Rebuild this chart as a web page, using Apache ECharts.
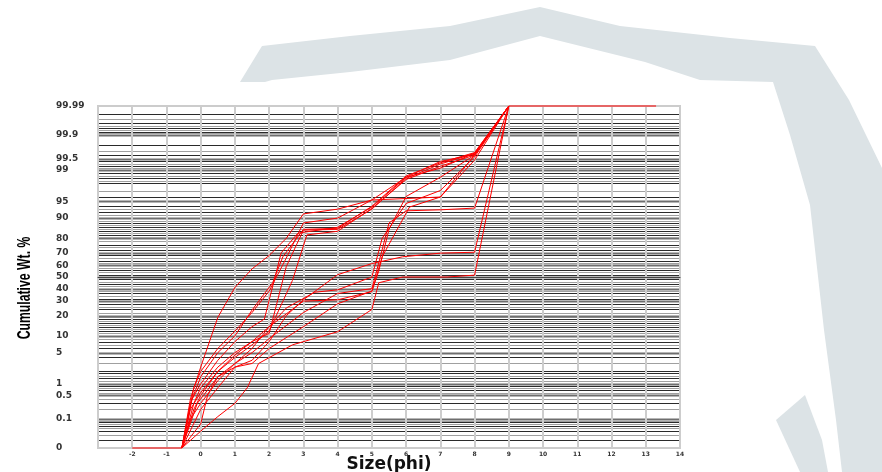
<!DOCTYPE html>
<html>
<head>
<meta charset="utf-8">
<title>Cumulative Wt. %</title>
<script src="https://cdn.jsdelivr.net/npm/echarts@6/dist/echarts.min.js"></script>
<style>
  html, body { margin: 0; padding: 0; background: #fff; }
  #chart { width: 882px; height: 472px; }
</style>
</head>
<body>
<div id="chart"></div>
<script>
// one array per sample: [size (phi), cumulative wt %]
const sample1 = [[-2, 0.01], [-0.55, 0.01], [-0.3, 0.4], [0, 2.5], [0.5, 19], [1, 41], [1.5, 57], [2, 68], [2.5, 80], [3, 91.5], [4, 93], [5, 95.3], [6, 98.5], [7, 99.1], [8, 99.65], [9, 99.99], [13.3, 99.99]];
const sample2 = [[-0.55, 0.01], [-0.25, 0.4], [0, 1], [0.5, 3.5], [1, 8], [1.5, 14], [1.86, 18], [2.35, 70], [2.84, 83], [4, 86], [5, 93.6], [6, 98.5], [7, 99.4], [8, 99.62], [9, 99.99]];
const sample3 = [[-0.55, 0.01], [-0.2, 0.3], [0, 0.8], [0.5, 2.5], [1, 5], [1.5, 8], [2, 11], [2.5, 59], [3, 84.6], [4, 85], [5, 93], [6, 98.4], [7, 99.3], [8, 99.64], [9, 99.99]];
const sample4 = [[-0.55, 0.01], [-0.3, 0.3], [0, 1.5], [0.5, 5], [1, 10], [1.5, 23.6], [2.1, 45], [2.4, 67], [3, 85], [4, 85.5], [5, 93.8], [6, 98.6], [7, 99.35], [8, 99.66], [9, 99.99]];
const sample5 = [[-0.55, 0.01], [-0.3, 0.2], [0, 0.6], [0.5, 2], [1, 4], [1.5, 7], [2, 12], [2.68, 47], [3.1, 82], [4, 84], [5, 93.2], [6, 98.3], [7, 99.2], [8, 99.6], [9, 99.99]];
const sample6 = [[-0.55, 0.01], [-0.2, 0.2], [0, 0.5], [0.5, 2], [1, 4.5], [1.5, 8], [2, 14], [3, 30], [4, 31], [5, 37.5], [5.3, 67], [6.1, 93.6], [7, 95.9], [8, 99.45], [9, 99.99]];
const sample7 = [[-0.55, 0.01], [-0.1, 0.3], [0, 0.4], [0.5, 1.5], [1, 3], [1.5, 5], [2, 9], [3, 22], [4, 36], [5, 40], [5.2, 62], [5.5, 88], [6, 92.5], [7, 92.8], [8, 93.3], [9, 99.99]];
const sample8 = [[-0.55, 0.01], [0, 0.2], [0.5, 0.8], [1, 2.5], [1.5, 3.5], [2, 8], [2.5, 20], [3, 31], [4, 52], [5, 61.5], [5.9, 67], [7, 69.8], [8, 70.5], [9, 99.99]];
const sample9 = [[-0.55, 0.01], [0, 0.04], [0.5, 0.12], [1, 0.3], [1.36, 0.8], [1.69, 3], [2.68, 7], [4, 11.7], [5, 24], [5.2, 45], [5.9, 50], [7.2, 50], [8, 51.6], [9, 99.99]];
const sample10 = [[-0.55, 0.01], [-0.3, 0.1], [0, 0.3], [0.5, 1.2], [1, 3], [1.5, 6], [2, 14], [2.5, 25], [3.33, 37], [4, 39], [5, 50], [5.3, 80], [6, 94.5], [7, 97], [8, 99.55], [9, 99.99]];
const sample11 = [[-0.55, 0.01], [0, 0.07], [0.2, 0.5], [0.5, 1.5], [1, 2.5], [1.5, 3], [2, 6], [3, 14], [4, 28], [5, 38], [5.2, 55], [5.5, 85], [6, 96], [7, 98.5], [8, 99.6], [9, 99.99]];
const sample12 = [[-0.55, 0.01], [-0.2, 0.8], [0, 2], [0.5, 6], [1, 12], [1.5, 22], [2, 38], [2.5, 66], [3, 88], [4, 90], [5, 95.3], [7, 95.9], [8, 99.6], [9, 99.99]];

// probability axis ticks
const yTickPct = [0.01, 0.1, 0.5, 1, 5, 10, 20, 30, 40, 50, 60, 70, 80, 90, 95, 99, 99.5, 99.9, 99.99];
const yTickText = ['0', '0.1', '0.5', '1', '5', '10', '20', '30', '40', '50', '60', '70', '80', '90', '95', '99', '99.5', '99.9', '99.99'];
// probability paper rulings: [from, to, step]
const rulingSteps = [[0.02, 0.1, 0.01], [0.1, 1, 0.1], [1, 2, 0.2], [2, 10, 1], [10, 20, 1], [20, 80, 2], [80, 90, 1], [90, 98, 1], [98, 99, 0.2], [99, 99.9, 0.1], [99.9, 99.99, 0.01]];

const samples = [sample1, sample2, sample3, sample4, sample5, sample6, sample7, sample8, sample9, sample10, sample11, sample12];

// inverse normal cdf (Acklam), pct -> probit
function probit(pct) {
  const p = pct / 100;
  const a = [-3.969683028665376e+01, 2.209460984245205e+02, -2.759285104469687e+02, 1.383577518672690e+02, -3.066479806614716e+01, 2.506628277459239e+00];
  const b = [-5.447609879822406e+01, 1.615858368580409e+02, -1.556989798598866e+02, 6.680131188771972e+01, -1.328068155288572e+01];
  const c = [-7.784894002430293e-03, -3.223964580411365e-01, -2.400758277161838e+00, -2.549732539343734e+00, 4.374664141464968e+00, 2.938163982698783e+00];
  const d = [7.784695709041462e-03, 3.224671290700398e-01, 2.445134137142996e+00, 3.754408661907416e+00];
  const plow = 0.02425;
  let q, r;
  if (p < plow) {
    q = Math.sqrt(-2 * Math.log(p));
    return (((((c[0] * q + c[1]) * q + c[2]) * q + c[3]) * q + c[4]) * q + c[5]) / ((((d[0] * q + d[1]) * q + d[2]) * q + d[3]) * q + 1);
  }
  if (p > 1 - plow) {
    q = Math.sqrt(-2 * Math.log(1 - p));
    return -(((((c[0] * q + c[1]) * q + c[2]) * q + c[3]) * q + c[4]) * q + c[5]) / ((((d[0] * q + d[1]) * q + d[2]) * q + d[3]) * q + 1);
  }
  q = p - 0.5;
  r = q * q;
  return (((((a[0] * r + a[1]) * r + a[2]) * r + a[3]) * r + a[4]) * r + a[5]) * q / (((((b[0] * r + b[1]) * r + b[2]) * r + b[3]) * r + b[4]) * r + 1);
}

const yMin = probit(0.01);
const yMax = probit(99.99);

const rulings = [];
rulingSteps.forEach(function (s) {
  let i = 0;
  for (let v = s[0]; v < s[1] - 1e-9; v += s[2]) {
    const pct = +v.toFixed(3);
    const major = yTickPct.indexOf(pct) >= 0;
    rulings.push([0, probit(pct), major ? 2 : (i % 2)]);
    i++;
  }
});

const chart = echarts.init(document.getElementById('chart'));

const series = [{
  type: 'custom',
  silent: true,
  z: 0,
  renderItem: function (params, api) {
    const cs = params.coordSys;
    const y = Math.round(api.coord([0, api.value(1)])[1]) + 0.5;
    const kind = api.value(2);
    return {
      type: 'line',
      shape: { x1: cs.x, y1: y, x2: cs.x + cs.width, y2: y },
      style: {
        stroke: kind === 2 ? '#6e6e6e' : (kind === 1 ? '#a0a0a0' : '#2a2a2a'),
        lineWidth: kind === 2 ? 2 : 1
      }
    };
  },
  data: rulings
}];

samples.forEach(function (s, i) {
  series.push({
    name: 'sample' + (i + 1),
    type: 'line',
    z: 3,
    clip: false,
    showSymbol: false,
    symbol: 'none',
    animation: false,
    lineStyle: { color: '#ff0000', width: 1 },
    data: s.map(function (p) { return [p[0], probit(p[1])]; })
  });
});

const option = {
  animation: false,
  backgroundColor: '#fff',
  grid: {
    left: 98, right: 202, top: 106, bottom: 24,
    outerBoundsMode: 'none',
    containLabel: false,
    show: true, borderColor: '#cccccc', borderWidth: 2, backgroundColor: '#fff'
  },
  graphic: [
    // faint watermark behind the chart
    {
      type: 'polygon', z: -10, silent: true,
      shape: { points: [[240, 82], [262, 46], [350, 36], [450, 26], [540, 7], [620, 26], [730, 38], [815, 46], [849, 100], [882, 168], [882, 472], [842, 472], [836, 420], [824, 330], [810, 205], [790, 135], [773, 82], [700, 80], [645, 62], [540, 36], [450, 60], [350, 72], [272, 80], [265, 82]] },
      style: { fill: '#dce3e6' }
    },
    {
      type: 'polygon', z: -10, silent: true,
      shape: { points: [[776, 420], [805, 395], [822, 440], [828, 472], [800, 472]] },
      style: { fill: '#dce3e6' }
    },
    {
      type: 'rect', z: -9, silent: true,
      shape: { x: 0, y: 82, width: 772, height: 390 },
      style: { fill: '#fff' }
    },
    {
      type: 'text', z: 10,
      x: 25, y: 288, rotation: Math.PI / 2, scaleX: 0.68,
      style: {
        text: 'Cumulative Wt. %',
        font: 'bold 18px "Liberation Sans", Arial, sans-serif',
        fill: '#000', align: 'center', verticalAlign: 'middle'
      }
    }
  ],
  xAxis: {
    type: 'value',
    min: -3, max: 14, interval: 1,
    z: 1,
    name: 'Size(phi)',
    nameLocation: 'middle',
    nameGap: 8,
    nameMoveOverlap: false,
    nameTextStyle: { fontFamily: 'DejaVu Sans', fontWeight: 'bold', fontSize: 17, lineHeight: 17, color: '#111', verticalAlign: 'top' },
    axisLine: { lineStyle: { color: '#444', width: 1 } },
    axisTick: { show: false },
    axisLabel: {
      margin: 3, fontSize: 6, fontWeight: 'bold', fontFamily: 'DejaVu Sans', color: '#333',
      formatter: function (v) { return v === -3 ? '' : String(v); }
    },
    splitLine: { show: true, lineStyle: { color: '#cdcdcd', width: 2 } }
  },
  yAxis: {
    type: 'value',
    min: yMin, max: yMax,
    z: 1,
    axisLine: { show: true, lineStyle: { color: '#cccccc', width: 2 } },
    axisTick: { show: false },
    splitLine: { show: false },
    axisLabel: {
      customValues: yTickPct.map(probit),
      align: 'left', margin: 42,
      fontSize: 9, fontWeight: 'bold', fontFamily: 'DejaVu Sans', color: '#333',
      formatter: function (v) {
        let best = 0;
        yTickPct.forEach(function (p, i) {
          if (Math.abs(probit(p) - v) < Math.abs(probit(yTickPct[best]) - v)) best = i;
        });
        return yTickText[best];
      }
    }
  },
  series: series
};

chart.setOption(option);
</script>
</body>
</html>
